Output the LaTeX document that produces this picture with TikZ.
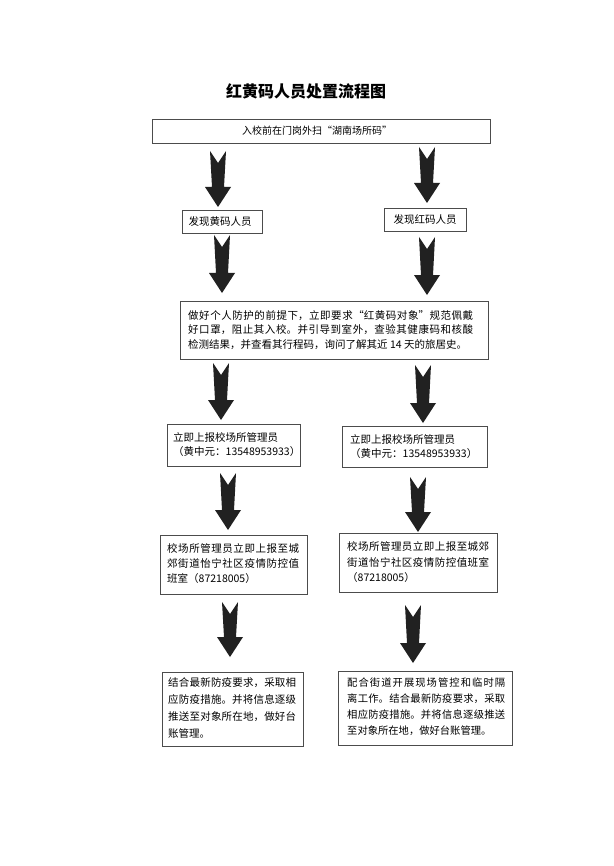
\documentclass[tikz,border=0pt]{standalone}
\usepackage{fontspec}
\setmainfont{Noto Sans CJK SC}
\XeTeXlinebreaklocale "zh"
\XeTeXlinebreakskip=0pt plus 3pt
\tikzset{
  box/.style={draw=black!70, line width=0.9pt, fill=white, inner sep=0pt},
  boxtext/.style={inner sep=0pt, anchor=west, align=justify},
  blockarrow/.style={fill=black!87, draw=none},
}
\newcommand\downarrowshape[3]{%
  \fill[blockarrow] ({#1-8},#2) -- (#1,{#2+12}) -- ({#1+8},#2) -- ({#1+6},{#3-20})
    -- ({#1+13},{#3-20}) -- (#1,#3) -- ({#1-13},{#3-20}) -- ({#1-6},{#3-20}) -- cycle;}
\begin{document}
\begin{tikzpicture}[x=1pt,y=-1pt]
\useasboundingbox[fill=white] (0,0) rectangle (613,866);

% title
\node[font=\fontsize{16}{18}\selectfont\bfseries] (title) at (306,91) {红黄码人员处置流程图};

% top box
\node[box, minimum width=338, minimum height=24, font=\fontsize{10}{12}\selectfont] (top) at (321,131) {\hspace*{-8pt}入校前在门岗外扫“湖南场所码”};

% level 1
\node[box, minimum width=80, minimum height=23, font=\fontsize{10.5}{12}\selectfont] (yellow) at (222,221.5) {\hspace*{-4pt}发现黄码人员};
\node[box, minimum width=82, minimum height=23, font=\fontsize{10.5}{12}\selectfont] (red) at (425,219.5) {发现红码人员};

% big box
\node[box, minimum width=308, minimum height=58] (common) at (334,330) {};
\node[boxtext, text width=285, font=\fontsize{10.5}{14.5}\selectfont] (commontext) at (188,330)
  {做好个人防护的前提下，立即要求“红黄码对象”规范佩戴\break
   好口罩，阻止其入校。并引导到室外，查验其健康码和核酸\break
   检测结果，并查看其行程码，询问了解其近 14 天的旅居史。};

% level 3
\node[box, minimum width=133, minimum height=42] (lrep) at (233.5,445) {};
\node[boxtext, align=left, font=\fontsize{10.5}{14}\selectfont] (lreptext) at (173,445)
  {立即上报校场所管理员\\（黄中元：13548953933）};
\node[box, minimum width=145, minimum height=41] (rrep) at (414.5,446.5) {};
\node[boxtext, align=left, font=\fontsize{10.5}{14}\selectfont] (rreptext) at (350,447)
  {立即上报校场所管理员\\（黄中元：13548953933）};

% level 4
\node[box, minimum width=147, minimum height=59] (lcomm) at (233.5,564.5) {};
\node[boxtext, text width=132, font=\fontsize{10.5}{15}\selectfont] (lcommtext) at (167,564)
  {校场所管理员立即上报至城\break
   郊街道怡宁社区疫情防控值\break
   班室（87218005）};
\node[box, minimum width=158, minimum height=59] (rcomm) at (418,562.5) {};
\node[boxtext, text width=142, font=\fontsize{10.5}{15.5}\selectfont] (rcommtext) at (347,562.5)
  {校场所管理员立即上报至城郊\break
   街道怡宁社区疫情防控值班室\break
   （87218005）};

% level 5
\node[box, minimum width=141, minimum height=74] (lfin) at (232.5,709) {};
\node[boxtext, text width=128, font=\fontsize{10.5}{16.7}\selectfont] (lfintext) at (168,708)
  {结合最新防疫要求，采取相\break
   应防疫措施。并将信息逐级\break
   推送至对象所在地，做好台\break
   账管理。};
\node[box, minimum width=174, minimum height=74] (rfin) at (425,708) {};
\node[boxtext, text width=158, font=\fontsize{10.3}{16}\selectfont] (rfintext) at (347,707)
  {配合街道开展现场管控和临时隔\break
   离工作。结合最新防疫要求，采取\break
   相应防疫措施。并将信息逐级推送\break
   至对象所在地，做好台账管理。};

% block arrows
\downarrowshape{218}{151}{207}
\downarrowshape{427}{147}{203}
\downarrowshape{222}{235}{293}
\downarrowshape{427}{237}{295}
\downarrowshape{221}{363}{420}
\downarrowshape{423}{365}{423}
\downarrowshape{228}{473}{530}
\downarrowshape{418}{477}{532}
\downarrowshape{230}{602}{657}
\downarrowshape{413}{605}{663}
\end{tikzpicture}
\end{document}
